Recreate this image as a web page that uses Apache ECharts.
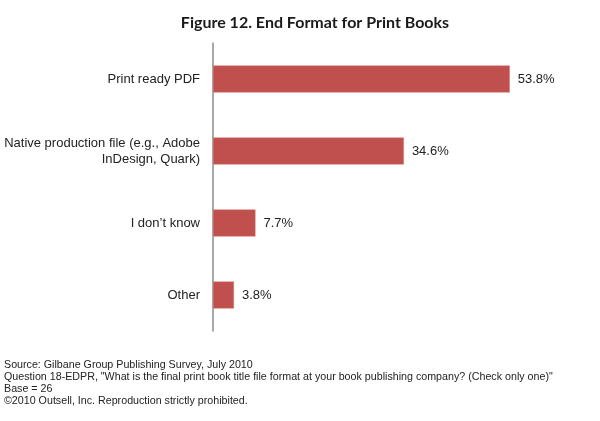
<!DOCTYPE html>
<html lang="en">

<head>
    <meta charset="UTF-8">
    <title>End Format for Print Books</title>
    <style>
        * {
            margin: 0;
            padding: 0;
        }

        html,
        body {
            height: 100%;
            background: #fff;
        }

        #box {
            width: 600px;
            height: 421px;
        }
    </style>
    <script src="https://cdn.jsdelivr.net/npm/echarts@6/dist/echarts.min.js"></script>
</head>

<body>
    <div id="box"></div>

    <script>
        // 分类（从上到下）
        var categories = ['Print ready PDF', 'Native production file (e.g., Adobe\nInDesign, Quark)', 'I don\u2019t know', 'Other'];
        var values = [53.8, 34.6, 7.7, 3.8];

        var notes = [
            'Source: Gilbane Group Publishing Survey, July 2010',
            'Question 18-EDPR, "What is the final print book title file format at your book publishing company? (Check only one)"',
            'Base = 26',
            '\u00a92010 Outsell, Inc. Reproduction strictly prohibited.'
        ];

        var myChart = echarts.init(document.getElementById('box'));

        myChart.setOption({
            animation: false,
            title: [
                {
                    text: 'Figure 12. End Format for Print Books',
                    left: 310,
                    textAlign: 'center',
                    top: 10,
                    textStyle: {
                        fontFamily: 'Lato',
                        fontWeight: 'bold',
                        fontSize: 16,
                        color: '#1a1a1a'
                    }
                },
                {
                    text: notes.join('\n'),
                    left: 4,
                    top: 359,
                    padding: 0,
                    textStyle: {
                        fontFamily: 'Liberation Sans',
                        fontWeight: 'normal',
                        fontSize: 10.7,
                        lineHeight: 12,
                        color: '#222'
                    }
                }
            ],
            grid: {
                left: 213,
                top: 43,
                height: 288,
                width: 331
            },
            xAxis: {
                type: 'value',
                min: 0,
                max: 60,
                show: false
            },
            yAxis: {
                type: 'category',
                inverse: true,
                data: categories,
                axisTick: { show: false },
                axisLine: {
                    lineStyle: { color: '#8c8c8c', width: 1.5 }
                },
                axisLabel: {
                    margin: 13,
                    fontFamily: 'Liberation Sans',
                    fontSize: 13,
                    lineHeight: 16,
                    align: 'right',
                    color: '#222'
                }
            },
            series: [
                {
                    type: 'bar',
                    data: values,
                    barWidth: 27,
                    itemStyle: {
                        color: '#c0504d',
                        borderColor: '#d27a77',
                        borderWidth: 0.5
                    },
                    label: {
                        show: true,
                        position: 'right',
                        distance: 8,
                        formatter: function (p) {
                            return p.value.toFixed(1) + '%';
                        },
                        fontFamily: 'Liberation Sans',
                        fontSize: 13,
                        color: '#222'
                    }
                }
            ]
        });

        window.onresize = function () {
            myChart.resize();
        }
    </script>
</body>

</html>
